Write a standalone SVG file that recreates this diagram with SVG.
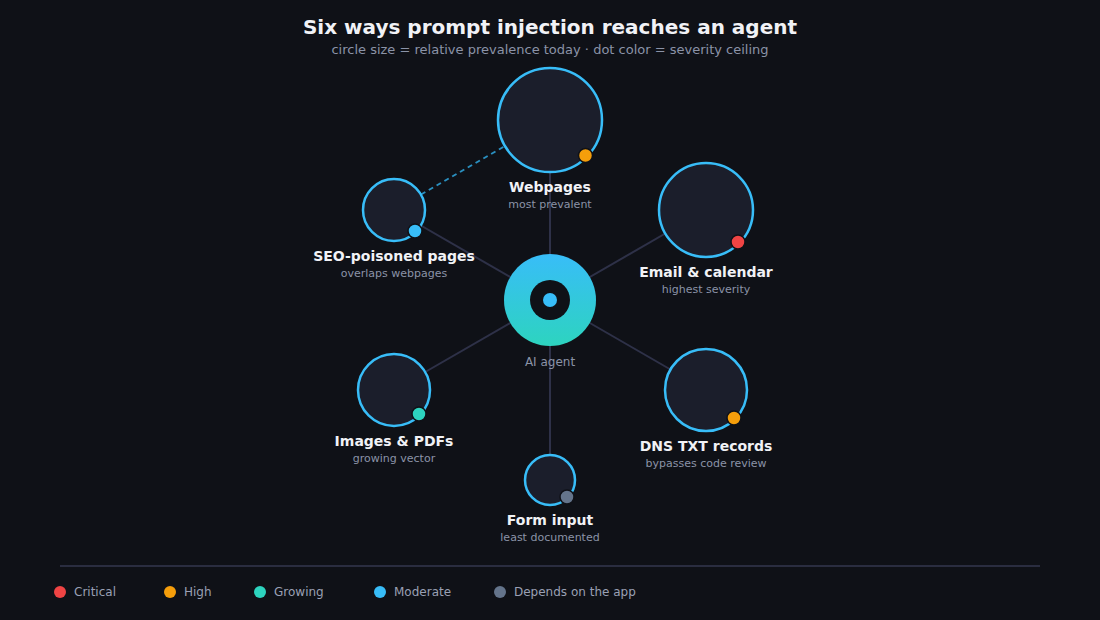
<svg xmlns="http://www.w3.org/2000/svg" width="1100" height="620" viewBox="0 0 1100 620">
<style>
.t{font-family:"DejaVu Sans",sans-serif;text-anchor:middle}
.title{font-size:20px;font-weight:bold;fill:#f1f2f6}
.sub{font-size:13px;fill:#8b93a7}
.lbl{font-size:14px;font-weight:bold;fill:#f1f2f6}
.cap{font-size:11px;fill:#8b93a7}
.node{fill:#1b1e2b;stroke:#38bdf8;stroke-width:2.5}
.dot{stroke:#0f1117;stroke-width:1.5}
.spoke{stroke:#2e3148;stroke-width:2}
.leg{font-family:"DejaVu Sans",sans-serif;font-size:12px;fill:#9aa0b4}
</style>
<defs>
<linearGradient id="hub" x1="0" y1="0" x2="0" y2="1">
<stop offset="0" stop-color="#38bdf8"/>
<stop offset="1" stop-color="#2dd4bf"/>
</linearGradient>
</defs>
<rect width="1100" height="620" fill="#0f1117"/>
<text class="t title" x="550" y="34">Six ways prompt injection reaches an agent</text>
<text class="t sub" x="550" y="54">circle size = relative prevalence today · dot color = severity ceiling</text>
<g id="connectors">
<line class="spoke" x1="550" y1="300" x2="550" y2="120"/>
<line class="spoke" x1="550" y1="300" x2="706" y2="210"/>
<line class="spoke" x1="550" y1="300" x2="706" y2="390"/>
<line class="spoke" x1="550" y1="300" x2="550" y2="480"/>
<line class="spoke" x1="550" y1="300" x2="394" y2="390"/>
<line class="spoke" x1="550" y1="300" x2="394" y2="210"/>
<line x1="421" y1="194.5" x2="505" y2="146" stroke="#2a8fbf" stroke-width="2" stroke-dasharray="5 4"/>
</g>
<g id="agent">
<circle cx="550" cy="300" r="46" fill="url(#hub)"/>
<circle cx="550" cy="300" r="20" fill="#0f1117"/>
<circle cx="550" cy="300" r="7" fill="#38bdf8"/>
<text class="t cap" x="550" y="366" style="font-size:12px">AI agent</text>
</g>
<g id="webpages">
<circle class="node" cx="550" cy="120" r="52"/>
<circle class="dot" cx="585.5" cy="155.5" r="7" fill="#f59e0b"/>
<text class="t lbl" x="550" y="192">Webpages</text>
<text class="t cap" x="550" y="208">most prevalent</text>
</g>
<g id="email">
<circle class="node" cx="706" cy="210" r="47"/>
<circle class="dot" cx="738" cy="242" r="7" fill="#ef4444"/>
<text class="t lbl" x="706" y="277">Email &amp; calendar</text>
<text class="t cap" x="706" y="293">highest severity</text>
</g>
<g id="dns">
<circle class="node" cx="706" cy="390" r="41"/>
<circle class="dot" cx="734" cy="418" r="7" fill="#f59e0b"/>
<text class="t lbl" x="706" y="451">DNS TXT records</text>
<text class="t cap" x="706" y="467">bypasses code review</text>
</g>
<g id="form">
<circle class="node" cx="550" cy="480" r="25"/>
<circle class="dot" cx="567" cy="497" r="7" fill="#64748b"/>
<text class="t lbl" x="550" y="525">Form input</text>
<text class="t cap" x="550" y="541">least documented</text>
</g>
<g id="images">
<circle class="node" cx="394" cy="390" r="36"/>
<circle class="dot" cx="419" cy="414" r="7" fill="#2dd4bf"/>
<text class="t lbl" x="394" y="446">Images &amp; PDFs</text>
<text class="t cap" x="394" y="462">growing vector</text>
</g>
<g id="seo">
<circle class="node" cx="394" cy="210" r="31"/>
<circle class="dot" cx="415" cy="231" r="7" fill="#38bdf8"/>
<text class="t lbl" x="394" y="261">SEO-poisoned pages</text>
<text class="t cap" x="394" y="277">overlaps webpages</text>
</g>
<g id="legend">
<line x1="60" y1="566" x2="1040" y2="566" stroke="#2a2d40" stroke-width="2"/>
<circle cx="60" cy="592" r="6" fill="#ef4444"/>
<text class="leg" x="74" y="596">Critical</text>
<circle cx="170" cy="592" r="6" fill="#f59e0b"/>
<text class="leg" x="184" y="596">High</text>
<circle cx="260" cy="592" r="6" fill="#2dd4bf"/>
<text class="leg" x="274" y="596">Growing</text>
<circle cx="380" cy="592" r="6" fill="#38bdf8"/>
<text class="leg" x="394" y="596">Moderate</text>
<circle cx="500" cy="592" r="6" fill="#64748b"/>
<text class="leg" x="514" y="596">Depends on the app</text>
</g>
</svg>
